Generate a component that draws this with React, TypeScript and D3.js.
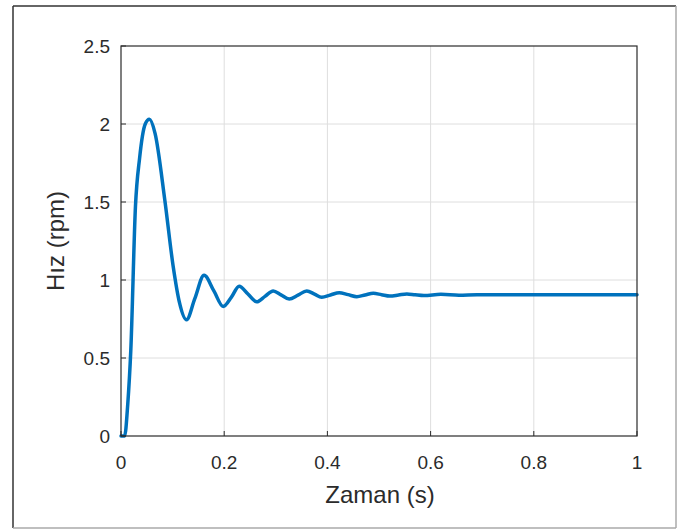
import React from "react";
import * as d3 from "d3";

const timeS = [0, 0.007, 0.013, 0.019, 0.028, 0.036, 0.047, 0.055, 0.066, 0.085, 0.101, 0.113, 0.127, 0.143, 0.161, 0.18, 0.198, 0.214, 0.229, 0.246, 0.263, 0.279, 0.295, 0.31, 0.326, 0.343, 0.36, 0.375, 0.389, 0.406, 0.423, 0.44, 0.457, 0.473, 0.489, 0.505, 0.521, 0.538, 0.554, 0.57, 0.587, 0.62, 0.655, 0.69, 0.75, 0.85, 1.0];
const speed = [0, 0, 0.2, 0.55, 1.47, 1.78, 2.0, 2.03, 1.94, 1.51, 1.09, 0.86, 0.745, 0.88, 1.03, 0.93, 0.83, 0.89, 0.96, 0.91, 0.86, 0.895, 0.93, 0.905, 0.878, 0.903, 0.93, 0.91, 0.889, 0.904, 0.919, 0.906, 0.893, 0.904, 0.915, 0.906, 0.897, 0.904, 0.911, 0.905, 0.9, 0.908, 0.902, 0.906, 0.905, 0.905, 0.905];
const xTicks = [0, 0.2, 0.4, 0.6, 0.8, 1];
const yTicks = [0, 0.5, 1, 1.5, 2, 2.5];
const xLabel = "Zaman (s)";
const yLabel = "Hız (rpm)";

const W = 679, H = 530;
const L = 121, R = 637, T = 46, B = 436;
const axisColor = "#2b2b2b";
const font = "'Liberation Sans', Arial, Helvetica, sans-serif";

export default function App() {
  const x = d3.scaleLinear().domain([0, 1]).range([L, R]);
  const y = d3.scaleLinear().domain([0, 2.5]).range([B, T]);
  const pts = timeS.map((t, i) => [t, speed[i]] as [number, number]);
  const line = d3.line<[number, number]>().x(d => x(d[0])).y(d => y(d[1])).curve(d3.curveMonotoneX);
  return (
    <svg width={W} height={H} style={{ position: "absolute", left: 0, top: 0, background: "#fff" }}>
      <rect x={0} y={0} width={W} height={H} fill="#fff" />
      {/* outer frame */}
      <line x1={13} y1={6} x2={676} y2={6} stroke="#333" strokeWidth={1.5} />
      <line x1={13} y1={6} x2={13} y2={528} stroke="#333" strokeWidth={1.5} />
      <line x1={676} y1={6} x2={676} y2={528} stroke="#aaa" strokeWidth={1.5} />
      <line x1={13} y1={528} x2={676} y2={528} stroke="#aaa" strokeWidth={1.5} />
      {/* grid */}
      {xTicks.slice(1, -1).map(t => (
        <line key={"gx" + t} x1={x(t)} x2={x(t)} y1={T} y2={B} stroke="#dedede" strokeWidth={1} />
      ))}
      {yTicks.slice(1, -1).map(t => (
        <line key={"gy" + t} x1={L} x2={R} y1={y(t)} y2={y(t)} stroke="#dedede" strokeWidth={1} />
      ))}
      {/* curve */}
      <path d={line(pts) || ""} fill="none" stroke="#0072BD" strokeWidth={3.5} strokeLinejoin="round" strokeLinecap="round" />
      {/* box */}
      <rect x={L} y={T} width={R - L} height={B - T} fill="none" stroke={axisColor} strokeWidth={1.2} />
      {/* ticks */}
      {xTicks.map(t => (
        <g key={"tx" + t}>
          <line x1={x(t)} x2={x(t)} y1={B} y2={B - 5} stroke={axisColor} strokeWidth={1} />
          <text x={x(t)} y={469} textAnchor="middle" fontFamily={font} fontSize={19} fill={axisColor}>{String(t)}</text>
        </g>
      ))}
      {yTicks.map(t => (
        <g key={"ty" + t}>
          <line x1={L} x2={L + 5} y1={y(t)} y2={y(t)} stroke={axisColor} strokeWidth={1} />
          <text x={110} y={y(t) + 7} textAnchor="end" fontFamily={font} fontSize={19} fill={axisColor}>{String(t)}</text>
        </g>
      ))}
      <text x={(L + R) / 2 + 1} y={503} textAnchor="middle" fontFamily={font} fontSize={24} fill={axisColor}>{xLabel}</text>
      <text transform={`translate(64, ${(T + B) / 2}) rotate(-90)`} textAnchor="middle" fontFamily={font} fontSize={24} fill={axisColor}>{yLabel}</text>
    </svg>
  );
}
